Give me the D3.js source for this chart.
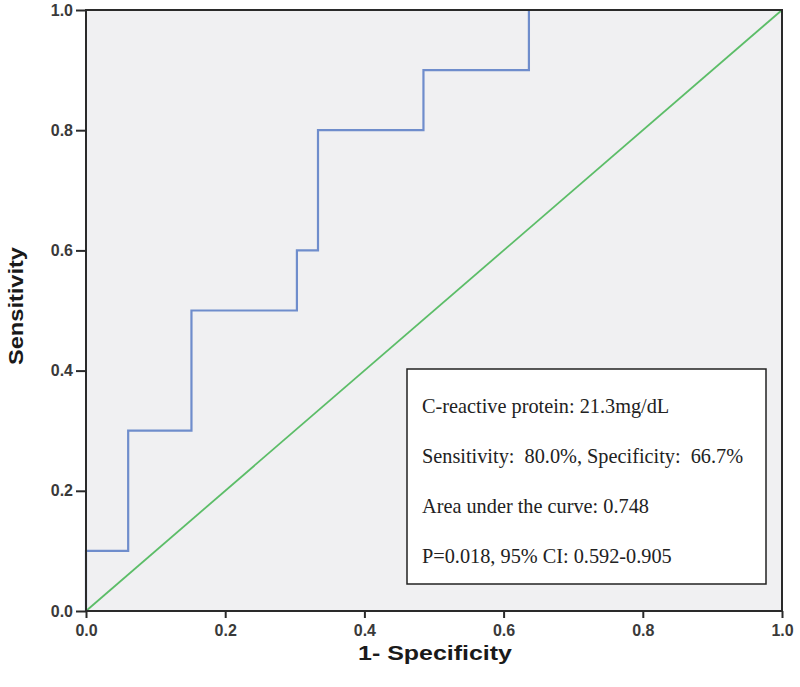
<!DOCTYPE html>
<html><head><meta charset="utf-8">
<script src="https://cdn.jsdelivr.net/npm/d3@7"></script>
<style>body{margin:0;background:#fff}</style>
</head><body>
<svg id="c" width="800" height="687"></svg>
<script>
const rocX = [0, 0, 2/33, 2/33, 5/33, 5/33, 10/33, 10/33, 11/33, 11/33, 16/33, 16/33, 21/33, 21/33, 1];
const rocY = [0, 0.1, 0.1, 0.3, 0.3, 0.5, 0.5, 0.6, 0.6, 0.8, 0.8, 0.9, 0.9, 1.0, 1.0];
const refX = [0, 1];
const refY = [0, 1];
const ticks = [0, 0.2, 0.4, 0.6, 0.8, 1.0];
const legendLines = [
  "C-reactive protein: 21.3mg/dL",
  "Sensitivity:  80.0%, Specificity:  66.7%",
  "Area under the curve: 0.748",
  "P=0.018, 95% CI: 0.592-0.905"
];
const xLabel = "1- Specificity", yLabel = "Sensitivity";

const svg = d3.select("#c");
const L = 86, R = 782, T = 10, B = 611;
const x = d3.scaleLinear().domain([0,1]).range([L,R]);
const y = d3.scaleLinear().domain([0,1]).range([B,T]);

svg.append("rect").attr("x",L).attr("y",T).attr("width",R-L).attr("height",B-T).attr("fill","#f0f0f2");

const line = d3.line().x(d=>x(d[0])).y(d=>y(d[1]));
svg.append("path").datum(refX.map((v,i)=>[v,refY[i]])).attr("d",line)
  .attr("fill","none").attr("stroke","#5cbd68").attr("stroke-width",1.8);
svg.append("path").datum(rocX.map((v,i)=>[v,rocY[i]])).attr("d",line)
  .attr("fill","none").attr("stroke","#6f8dcc").attr("stroke-width",2.2);

// frame
svg.append("rect").attr("x",L).attr("y",T).attr("width",R-L).attr("height",B-T)
  .attr("fill","none").attr("stroke","#2a2a2a").attr("stroke-width",2);

const fmt = d3.format(".1f");
const xAxis = svg.append("g").attr("transform",`translate(0,${B})`)
  .call(d3.axisBottom(x).tickValues(ticks).tickFormat(fmt).tickSize(7).tickPadding(7));
const yAxis = svg.append("g").attr("transform",`translate(${L},0)`)
  .call(d3.axisLeft(y).tickValues(ticks).tickFormat(fmt).tickSize(10).tickPadding(3));
[xAxis,yAxis].forEach(a=>{
  a.select(".domain").remove();
  a.selectAll(".tick line").attr("stroke","#2a2a2a").attr("stroke-width",2);
  a.selectAll(".tick text").attr("fill","#3a3a3a").attr("font-family","Liberation Sans, Arial, sans-serif")
    .attr("font-size",16).attr("font-weight","bold");
});

svg.append("text").attr("x",435).attr("y",660).attr("text-anchor","middle")
  .attr("font-family","Liberation Sans, Arial, sans-serif").attr("font-weight","bold").attr("font-size",21)
  .attr("textLength",154).attr("lengthAdjust","spacingAndGlyphs")
  .attr("fill","#1a1a1a").text(xLabel);
svg.append("text").attr("transform","translate(23,306) rotate(-90)").attr("text-anchor","middle")
  .attr("font-family","Liberation Sans, Arial, sans-serif").attr("font-weight","bold").attr("font-size",21)
  .attr("textLength",118).attr("lengthAdjust","spacingAndGlyphs")
  .attr("fill","#1a1a1a").text(yLabel);

// legend box
svg.append("rect").attr("x",407).attr("y",369).attr("width",359).attr("height",215)
  .attr("fill","#fff").attr("stroke","#222").attr("stroke-width",1.5);
svg.selectAll("text.leg").data(legendLines).join("text").attr("class","leg")
  .attr("x",422).attr("y",(d,i)=>413+i*50)
  .attr("font-family","Liberation Serif, Times New Roman, serif").attr("font-size",20.3)
  .style("white-space","pre")
  .attr("fill","#222").text(d=>d);
</script>
</body></html>
